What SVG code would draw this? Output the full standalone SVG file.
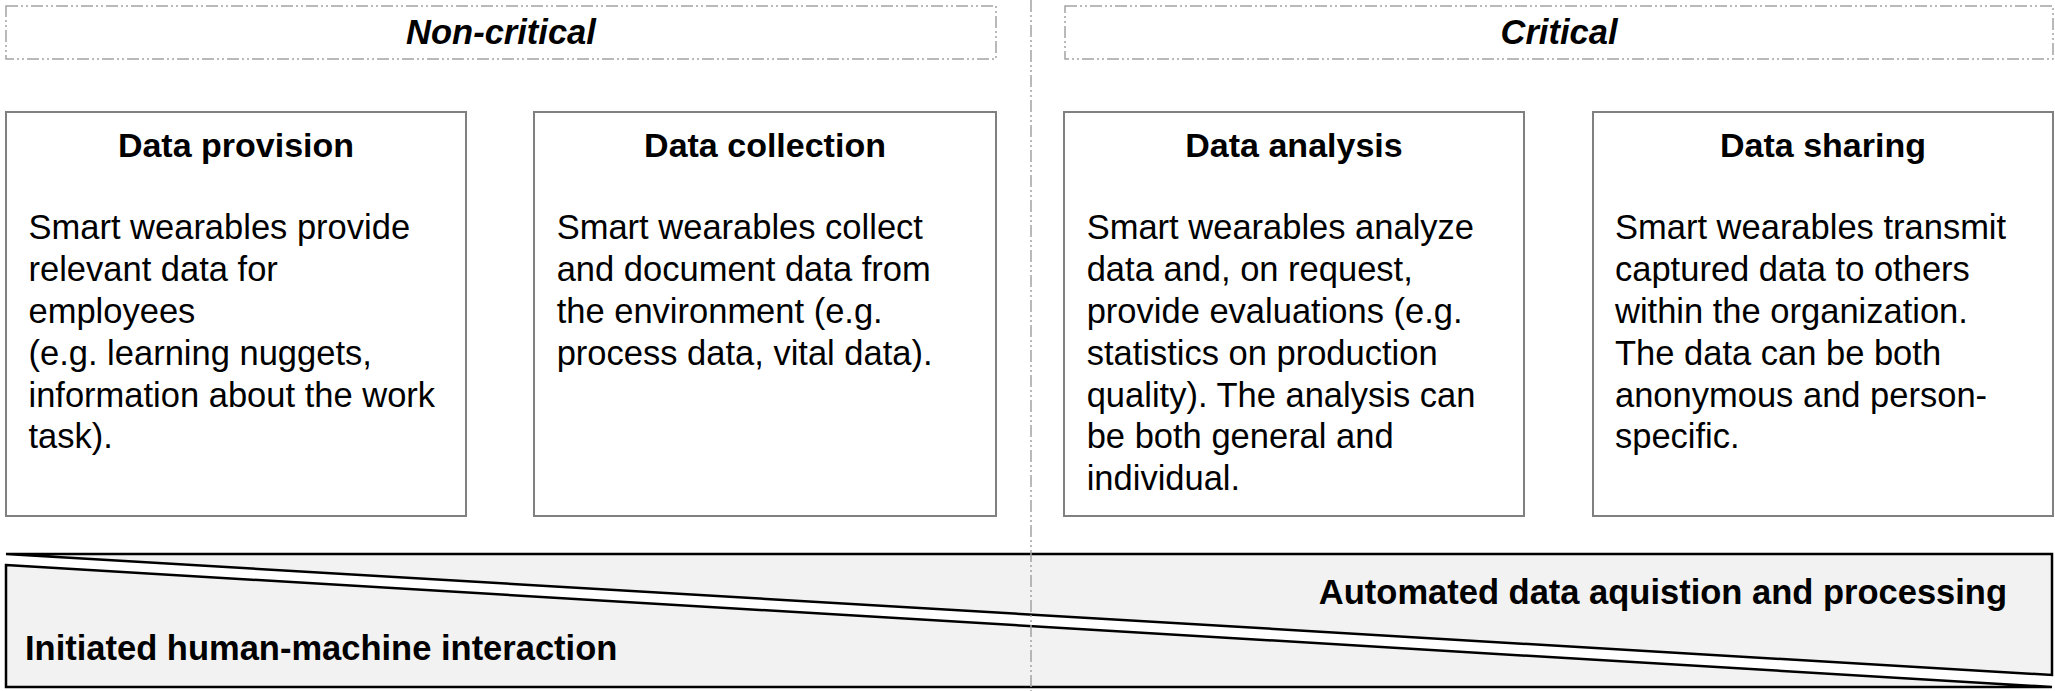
<svg xmlns="http://www.w3.org/2000/svg" width="2055" height="691" viewBox="0 0 2055 691">
<style>
  .dash { fill: none; stroke: #a3a3a3; stroke-width: 1.5; stroke-dasharray: 12 3 2 3 2 3; }
  .box { fill: #ffffff; stroke: #808080; stroke-width: 2; }
  .band { fill: #f2f2f2; stroke: #000000; stroke-width: 2.5; stroke-linejoin: miter; }
  .hdr { font-family: "Liberation Sans", Arial, sans-serif; font-size: 34.5px; font-weight: bold; font-style: italic; fill: #000; text-anchor: middle; }
  .title { font-family: "Liberation Sans", Arial, sans-serif; font-size: 34px; font-weight: bold; fill: #000; text-anchor: middle; }
  .body { font-family: "Liberation Sans", Arial, sans-serif; font-size: 34.5px; fill: #000; }
  .bandtxt { font-family: "Liberation Sans", Arial, sans-serif; font-size: 34.5px; font-weight: bold; fill: #000; }
</style>
<rect width="2055" height="691" fill="#ffffff"/>

<g id="band">
  <polygon class="band" points="6,554 2052,554 2052,675"/>
  <polygon class="band" points="6,565 2052,687 6,687"/>
  <text class="bandtxt" x="2007" y="604" text-anchor="end">Automated data aquistion and processing</text>
  <text class="bandtxt" x="25" y="660">Initiated human-machine interaction</text>
</g>

<g id="connectors">
  <line class="dash" x1="1031" y1="0" x2="1031" y2="691"/>
</g>

<g id="noncritical">
  <rect class="dash" x="6" y="6" width="990" height="53"/>
  <text class="hdr" x="501" y="44">Non-critical</text>
</g>

<g id="critical">
  <rect class="dash" x="1065" y="6" width="988" height="53"/>
  <text class="hdr" x="1559" y="44">Critical</text>
</g>

<g id="data-provision">
  <rect class="box" x="6" y="112" width="460" height="404"/>
  <text class="title" x="236" y="157">Data provision</text>
  <text class="body" x="28.5" y="239.3">
    <tspan x="28.5" dy="0">Smart wearables provide</tspan>
    <tspan x="28.5" dy="41.8">relevant data for</tspan>
    <tspan x="28.5" dy="41.8">employees</tspan>
    <tspan x="28.5" dy="41.8">(e.g. learning nuggets,</tspan>
    <tspan x="28.5" dy="41.8">information about the work</tspan>
    <tspan x="28.5" dy="41.8">task).</tspan>
  </text>
</g>

<g id="data-collection">
  <rect class="box" x="534" y="112" width="462" height="404"/>
  <text class="title" x="765" y="157">Data collection</text>
  <text class="body" x="556.7" y="239.3">
    <tspan x="556.7" dy="0">Smart wearables collect</tspan>
    <tspan x="556.7" dy="41.8">and document data from</tspan>
    <tspan x="556.7" dy="41.8">the environment (e.g.</tspan>
    <tspan x="556.7" dy="41.8">process data, vital data).</tspan>
  </text>
</g>

<g id="data-analysis">
  <rect class="box" x="1064" y="112" width="460" height="404"/>
  <text class="title" x="1294" y="157">Data analysis</text>
  <text class="body" x="1086.7" y="239.3">
    <tspan x="1086.7" dy="0">Smart wearables analyze</tspan>
    <tspan x="1086.7" dy="41.8">data and, on request,</tspan>
    <tspan x="1086.7" dy="41.8">provide evaluations (e.g.</tspan>
    <tspan x="1086.7" dy="41.8">statistics on production</tspan>
    <tspan x="1086.7" dy="41.8">quality). The analysis can</tspan>
    <tspan x="1086.7" dy="41.8">be both general and</tspan>
    <tspan x="1086.7" dy="41.8">individual.</tspan>
  </text>
</g>

<g id="data-sharing">
  <rect class="box" x="1593" y="112" width="460" height="404"/>
  <text class="title" x="1823" y="157">Data sharing</text>
  <text class="body" x="1615" y="239.3">
    <tspan x="1615" dy="0">Smart wearables transmit</tspan>
    <tspan x="1615" dy="41.8">captured data to others</tspan>
    <tspan x="1615" dy="41.8">within the organization.</tspan>
    <tspan x="1615" dy="41.8">The data can be both</tspan>
    <tspan x="1615" dy="41.8">anonymous and person-</tspan>
    <tspan x="1615" dy="41.8">specific.</tspan>
  </text>
</g>
</svg>
